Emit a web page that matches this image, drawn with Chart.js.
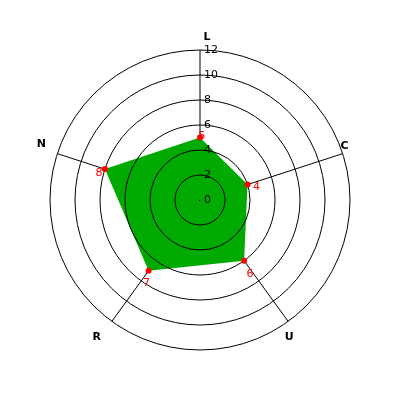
<!DOCTYPE html>
<html>
<head>
<meta charset="utf-8">
<script src="https://cdn.jsdelivr.net/npm/chart.js@4/dist/chart.umd.min.js"></script>
<style>
html,body{margin:0;padding:0;background:#fff;}
#wrap{width:400px;height:400px;}
</style>
</head>
<body>
<div id="wrap"><canvas id="c" width="400" height="400"></canvas></div>
<script>
// ---- data ----
const categories = ['L', 'C', 'U', 'R', 'N'];
const values = [5, 4, 6, 7, 8];
const tickValues = [0, 2, 4, 6, 8, 10, 12];

// ---- styles ----
const fillColor = 'rgb(0,170,0)';
const pointColor = 'rgb(255,0,0)';
const pointLabelOffsets = [[7, -13], [2, -8], [1, 16], [-15, 16], [-16, -10]];
const dataLabelOffsets = [[2, -1], [9, 3], [6, 13], [-2, 12], [-6, 4]];

const overlay = {
  id: 'overlay',
  afterDatasetDraw(chart, args) {
    if (args.index !== 0) return;
    const s = chart.scales.r;
    const ctx = chart.ctx;
    ctx.save();
    ctx.strokeStyle = '#000';
    ctx.lineWidth = 1;
    tickValues.forEach(v => {
      if (v === 0) return;
      const r = s.getDistanceFromCenterForValue(v);
      ctx.beginPath();
      ctx.arc(s.xCenter, s.yCenter, r, 0, Math.PI * 2);
      ctx.stroke();
    });
    ctx.fillStyle = '#000';
    ctx.font = '11px "DejaVu Sans"';
    ctx.textAlign = 'left';
    ctx.textBaseline = 'middle';
    tickValues.forEach(v => {
      const r = s.getDistanceFromCenterForValue(v);
      ctx.fillText(String(v), s.xCenter + 4, s.yCenter - r);
    });
    ctx.fillRect(s.xCenter - 1, s.yCenter, 1, 1);
    ctx.restore();
  },
  afterDatasetsDraw(chart) {
    const s = chart.scales.r;
    const ctx = chart.ctx;
    ctx.save();
    ctx.textAlign = 'center';
    ctx.textBaseline = 'middle';
    ctx.fillStyle = '#000';
    ctx.font = 'bold 11px "DejaVu Sans"';
    categories.forEach((c, i) => {
      const p = s.getPointPosition(i, s.drawingArea);
      ctx.fillText(c, p.x + pointLabelOffsets[i][0], p.y + pointLabelOffsets[i][1]);
    });
    ctx.fillStyle = pointColor;
    ctx.font = '11px "DejaVu Sans"';
    values.forEach((v, i) => {
      const p = s.getPointPosition(i, s.getDistanceFromCenterForValue(v));
      ctx.fillText(String(v), p.x + dataLabelOffsets[i][0], p.y + dataLabelOffsets[i][1]);
    });
    ctx.restore();
  }
};

new Chart(document.getElementById('c'), {
  type: 'radar',
  data: {
    labels: categories,
    datasets: [
      {
        data: values,
        backgroundColor: fillColor,
        borderColor: fillColor,
        borderWidth: 0,
        fill: true,
        pointRadius: 0,
        order: 2
      },
      {
        data: values,
        showLine: false,
        fill: false,
        borderWidth: 0,
        pointRadius: 3,
        pointBackgroundColor: pointColor,
        pointBorderColor: pointColor,
        pointBorderWidth: 0,
        order: 1
      }
    ]
  },
  plugins: [overlay],
  options: {
    responsive: false,
    animation: false,
    events: [],
    layout: { padding: 50 },
    plugins: { legend: { display: false }, tooltip: { enabled: false } },
    scales: {
      r: {
        min: tickValues[0],
        max: tickValues[tickValues.length - 1],
        ticks: { stepSize: 2, display: false },
        grid: { display: false },
        angleLines: { display: true, color: '#000', lineWidth: 1 },
        pointLabels: { display: false }
      }
    }
  }
});
</script>
</body>
</html>
